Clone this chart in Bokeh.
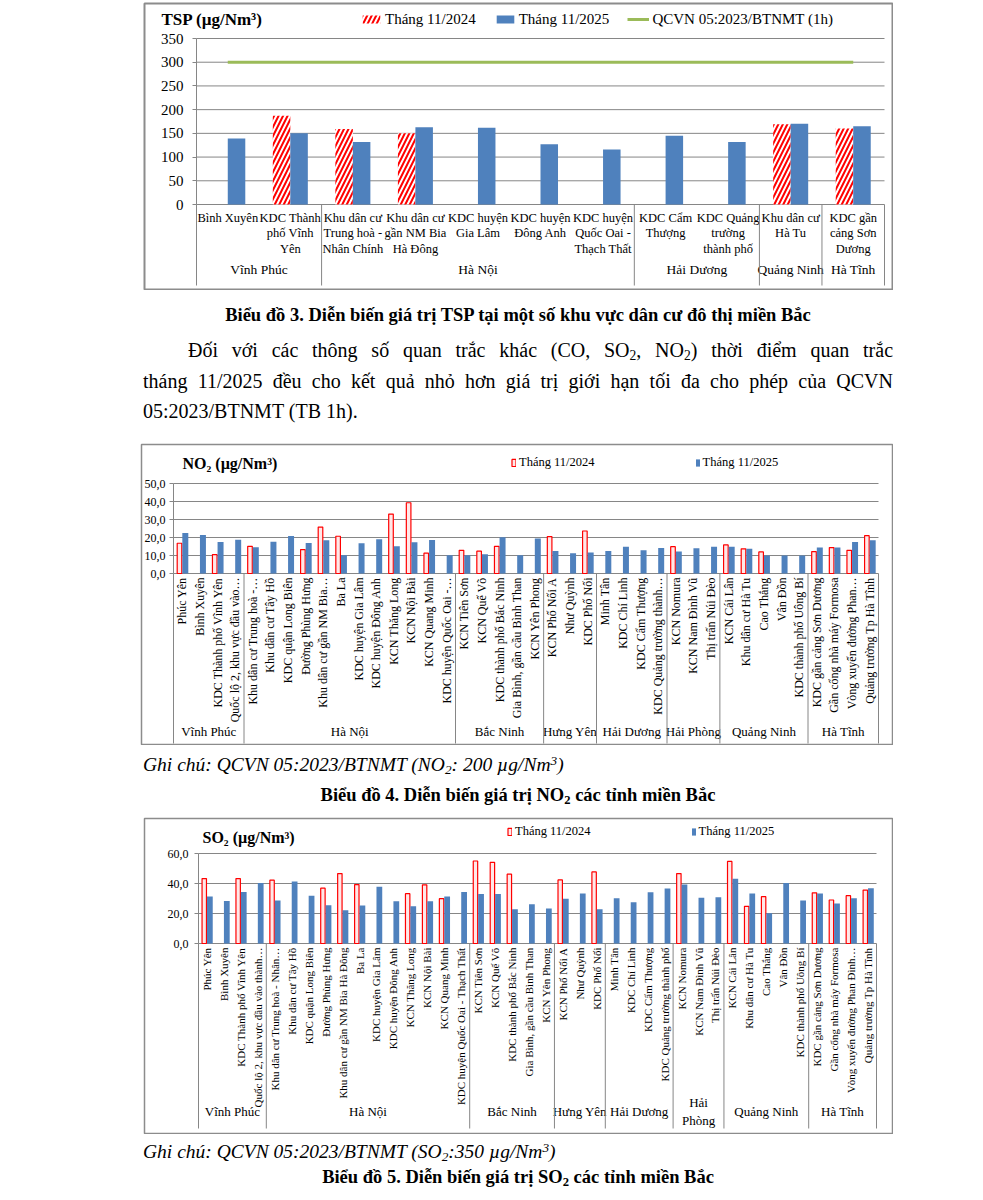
import math
from bokeh.plotting import figure
from bokeh.models import Range1d, ColumnDataSource, FixedTicker, Label, Legend, LegendItem, Div
from bokeh.layouts import column
from bokeh.core.properties import value
from bokeh.embed import file_html
from bokeh.resources import INLINE

NaN = float("nan")
SERIF = "Liberation Serif"
BLUE = "#4F81BD"
RED = "#FF0000"
GREEN = "#9BBB59"
GRID = "#868686"
BORDER = "#8C8C8C"

SERIES_2024 = "Tháng 11/2024"
SERIES_2025 = "Tháng 11/2025"

# ---------------- TSP ----------------
tsp_groups = ["Vĩnh Phúc", "Hà Nội", "Hải Dương", "Quảng Ninh", "Hà Tĩnh"]
tsp_group_sizes = [2, 5, 2, 1, 1]
tsp_group_labels = ["Vĩnh Phúc", "Hà Nội", "Hải Dương", "Quảng Ninh", "Hà Tĩnh"]
tsp_labels = ["Bình Xuyên", "KDC Thành\nphố Vĩnh\nYên", "Khu dân cư\nTrung hoà -\nNhân Chính",
              "Khu dân cư\ngần NM Bia\nHà Đông", "KDC huyện\nGia Lâm", "KDC huyện\nĐông Anh",
              "KDC huyện\nQuốc Oai -\nThạch Thất", "KDC Cẩm\nThượng", "KDC Quảng\ntrường\nthành phố",
              "Khu dân cư\nHà Tu", "KDC gần\ncảng Sơn\nDương"]
tsp_2024 = [NaN, 187, 159, 150, NaN, NaN, NaN, NaN, NaN, 169, 160]
tsp_2025 = [139, 150, 132, 163, 162, 127, 116, 145, 132, 170, 165]
tsp_ticks = [0, 50, 100, 150, 200, 250, 300, 350]
tsp_tick_text = ["0", "50", "100", "150", "200", "250", "300", "350"]
tsp_limit = 300
tsp_limit_name = "QCVN 05:2023/BTNMT (1h)"

# ---------------- NO2 / SO2 stations ----------------
air_groups = ["Vĩnh Phúc", "Hà Nội", "Bắc Ninh", "Hưng Yên", "Hải Dương", "Hải Phòng",
              "Quảng Ninh", "Hà Tĩnh"]
air_group_sizes = [4, 12, 5, 3, 4, 3, 5, 4]
no2_group_labels = ["Vĩnh Phúc", "Hà Nội", "Bắc Ninh", "Hưng Yên", "Hải Dương", "Hải Phòng",
                    "Quảng Ninh", "Hà Tĩnh"]
so2_group_labels = ["Vĩnh Phúc", "Hà Nội", "Bắc Ninh", "Hưng Yên", "Hải Dương", "Hải\nPhòng",
                    "Quảng Ninh", "Hà Tĩnh"]

no2_labels = ["Phúc Yên", "Bình Xuyên", "KDC Thành phố Vĩnh Yên", "Quốc lộ 2, khu vực đầu vào…",
              "Khu dân cư Trung hoà -…", "Khu dân cư Tây Hồ", "KDC quận Long Biên", "Đường Phùng Hưng",
              "Khu dân cư gần NM Bia…", "Ba La", "KDC huyện Gia Lâm", "KDC huyện Đông Anh",
              "KCN Thăng Long", "KCN Nội Bài", "KCN Quang Minh", "KDC huyện Quốc Oai -…",
              "KCN Tiên Sơn", "KCN Quế Võ", "KDC thành phố Bắc Ninh", "Gia Bình, gần cầu Bình Than",
              "KCN Yên Phong", "KCN Phố Nối A", "Như Quỳnh", "KDC Phố Nối",
              "Minh Tân", "KDC Chí Linh", "KDC Cẩm Thượng", "KDC Quảng trường thành…",
              "KCN Nomura", "KCN Nam Đình Vũ", "Thị trấn Núi Đèo",
              "KCN Cái Lân", "Khu dân cư Hà Tu", "Cao Thắng", "Vân Đồn", "KDC thành phố Uông Bí",
              "KDC gần cảng Sơn Dương", "Gần cổng nhà máy Formosa", "Vòng xuyến đường Phan…",
              "Quảng trường Tp Hà Tĩnh"]
no2_2024 = [16.8, NaN, 10.5, NaN, 15.1, NaN, NaN, 13.3, 25.8, 20.7, NaN, NaN, 33.0, 39.3, 11.3, NaN,
            12.9, 12.4, 15.1, NaN, NaN, 20.5, NaN, 23.6, NaN, NaN, NaN, NaN, 14.9, NaN, NaN,
            15.9, 13.7, 12.0, NaN, NaN, 12.2, 14.4, 12.9, 21.0]
no2_2025 = [22.5, 21.4, 17.5, 18.8, 14.6, 17.7, 20.8, 17.0, 18.5, 10.1, 16.8, 19.0, 15.1, 17.3, 18.6, 10.1,
            10.1, 10.7, 20.1, 10.1, 19.4, 12.5, 11.3, 11.6, 12.5, 14.8, 12.9, 14.2, 12.2, 14.0, 14.9,
            14.8, 13.8, 10.0, 10.0, 10.0, 14.4, 14.4, 17.5, 18.5]
no2_ticks = [0, 10, 20, 30, 40, 50]
no2_tick_text = ["0,0", "10,0", "20,0", "30,0", "40,0", "50,0"]

so2_labels = ["Phúc Yên", "Bình Xuyên", "KDC Thành phố Vĩnh Yên", "Quốc lộ 2, khu vực đầu vào thành…",
              "Khu dân cư Trung hoà - Nhân…", "Khu dân cư Tây Hồ", "KDC quận Long Biên", "Đường Phùng Hưng",
              "Khu dân cư gần NM Bia Hà Đông", "Ba La", "KDC huyện Gia Lâm", "KDC huyện Đông Anh",
              "KCN Thăng Long", "KCN Nội Bài", "KCN Quang Minh", "KDC huyện Quốc Oai - Thạch Thất",
              "KCN Tiên Sơn", "KCN Quế Võ", "KDC thành phố Bắc Ninh", "Gia Bình, gần cầu Bình Than",
              "KCN Yên Phong", "KCN Phố Nối A", "Như Quỳnh", "KDC Phố Nối",
              "Minh Tân", "KDC Chí Linh", "KDC Cẩm Thượng", "KDC Quảng trường thành phố",
              "KCN Nomura", "KCN Nam Đình Vũ", "Thị trấn Núi Đèo",
              "KCN Cái Lân", "Khu dân cư Hà Tu", "Cao Thắng", "Vân Đồn", "KDC thành phố Uông Bí",
              "KDC gần cảng Sơn Dương", "Gần cổng nhà máy Formosa", "Vòng xuyến đường Phan Đình…",
              "Quảng trường Tp Hà Tĩnh"]
so2_2024 = [43.3, NaN, 43.3, NaN, 42.2, NaN, NaN, 36.9, 46.6, 39.3, NaN, NaN, 33.2, 39.1, 29.9, NaN,
            55.0, 54.1, 46.2, NaN, NaN, 42.4, NaN, 47.7, NaN, NaN, NaN, NaN, 46.6, NaN, NaN,
            54.7, 24.8, 31.2, NaN, NaN, 33.8, 29.0, 31.9, 35.6]
so2_2025 = [31.4, 28.4, 34.3, 40.4, 28.6, 41.3, 31.9, 25.5, 22.2, 25.3, 37.8, 28.1, 24.8, 28.1, 31.4, 34.3,
            33.0, 33.0, 22.9, 26.2, 23.3, 29.9, 33.4, 22.9, 30.1, 27.5, 34.1, 36.7, 39.3, 30.5, 30.8,
            43.1, 33.4, 20.2, 40.4, 28.6, 33.4, 26.6, 30.1, 36.9]
so2_ticks = [0, 20, 40, 60]
so2_tick_text = ["0,0", "20,0", "40,0", "60,0"]


def expand(groups, sizes):
    out = []
    for g, n in zip(groups, sizes):
        out += [g] * n
    return out


def make_chart(geo, style, title, labels, groups, sizes, group_labels, v24, v25, ticks, tick_text,
               limit=None, limit_name=None):
    # geometry in canvas pixels: W,H box; L,R plot left/right; T,Z y of top tick / zero; B separator bottom
    W, H, L, R, T, Z, B = (geo[k] for k in ("W", "H", "L", "R", "T", "Z", "B"))
    n = len(labels)
    ymax = ticks[-1]
    cw = (R - L) / n            # px per category
    k = (Z - T) / ymax          # px per unit
    stations = [s.replace("\n", " ") for s in labels]
    provinces = expand(groups, sizes)
    xc = [i + 0.5 for i in range(n)]

    p = figure(x_range=Range1d(-(L - 1) / cw, n + (W - 1 - R) / cw),
               y_range=Range1d(-(H - 1 - Z) / k, ymax + (T - 1) / k),
               x_axis_location=None, y_axis_location="left",
               frame_width=W - 2, frame_height=H - 2,
               min_border_left=1, min_border_right=1, min_border_top=1, min_border_bottom=1,
               output_backend="svg", toolbar_location=None,
               outline_line_color=BORDER, outline_line_width=geo["bw"],
               background_fill_color="white", border_fill_color="white",
               margin=geo["margin"])
    p.xgrid.visible = False
    p.ygrid.visible = False
    ax = p.yaxis[0]
    ax.fixed_location = 0
    ax.bounds = (0, ymax)
    ax.ticker = FixedTicker(ticks=ticks)
    ax.major_label_overrides = dict(zip(ticks, tick_text))
    ax.axis_line_color = GRID
    ax.major_tick_line_color = GRID
    ax.major_tick_in = 0
    ax.major_tick_out = 4
    ax.minor_tick_line_color = None
    ax.major_label_text_font = SERIF
    ax.major_label_text_font_size = style["tick_font"]
    ax.major_label_text_color = "black"
    ax.major_label_standoff = style["tick_standoff"]

    # horizontal gridlines at the ticks, spanning the categories
    gsrc = ColumnDataSource(dict(y=ticks, x0=[0] * len(ticks), x1=[n] * len(ticks)))
    p.segment(x0="x0", y0="y", x1="x1", y1="y", source=gsrc, line_color=GRID, line_width=1)

    src = ColumnDataSource(dict(x=xc, station=stations, province=provinces, v24=v24, v25=v25, lab=labels,
                                x24=[v + style["off24"] for v in xc], x25=[v + style["off25"] for v in xc]))
    r24 = p.vbar(x="x24", top="v24", width=style["w24"], source=src, **style["bar24"])
    r25 = p.vbar(x="x25", top="v25", width=style["w25"], source=src, fill_color=BLUE, line_color=None)
    items = [LegendItem(label=SERIES_2024, renderers=[r24]),
             LegendItem(label=SERIES_2025, renderers=[r25])]
    if limit is not None:
        rl = p.line(x=[xc[0], xc[-1]], y=[limit, limit], line_color=GREEN, line_width=3)
        items.append(LegendItem(label=limit_name, renderers=[rl]))

    # category labels
    if style["rotate"]:
        p.text(x="x", y=0, text="lab", source=src, angle=math.pi / 2, text_align="right",
               text_baseline="middle", y_offset=style["lab_gap"], text_font=value(SERIF),
               text_font_size=style["lab_font"], text_color="black")
    else:
        p.text(x="x", y=0, text="lab", source=src, text_align="center", text_baseline="top",
               y_offset=style["lab_gap"], text_font=value(SERIF), text_font_size=style["lab_font"],
               text_line_height=1.12, text_color="black")

    # group labels and separators
    bnd = [0]
    for m in sizes:
        bnd.append(bnd[-1] + m)
    centers = [(bnd[i] + bnd[i + 1]) / 2 for i in range(len(sizes))]
    tsrc = ColumnDataSource(dict(x=centers, t=group_labels))
    p.text(x="x", y=0, text="t", source=tsrc, text_align="center", text_baseline="middle",
           y_offset=style["grp_gap"], text_font=value(SERIF), text_font_size=style["grp_font"],
           text_line_height=1.15, text_color="black")
    ybot = -(B - Z) / k
    ssrc = ColumnDataSource(dict(x=bnd, y1=[ybot] * len(bnd)))
    p.segment(x0="x", y0=0, x1="x", y1="y1", source=ssrc, line_color=GRID, line_width=1)

    # title
    p.add_layout(Label(x=(style["title_x"] - L) / cw, y=ymax + (T - style["title_y"]) / k, text=title,
                       text_font=SERIF, text_font_style="bold", text_font_size=style["title_font"],
                       text_baseline="middle", text_align="left", text_color="black"))
    # legend (location measured from the frame's bottom-left corner)
    lx, ly = style["legend_xy"]
    lg = Legend(items=items, orientation="horizontal",
                location=(lx - 1, (H - 1) - ly - style["label_h"] / 2),
                glyph_width=style["glyph_w"], glyph_height=style["glyph_h"],
                label_standoff=style["standoff"], spacing=style["spacing"], padding=0, margin=0,
                label_height=style["label_h"],
                border_line_color=None, background_fill_alpha=0,
                label_text_font=SERIF, label_text_font_size=style["legend_font"],
                label_text_color="black", label_text_baseline="middle")
    p.add_layout(lg)
    return p


tsp_geo = dict(W=750, H=288, L=53, R=741, T=36, Z=202, B=283, bw=2, margin=(2, 0, 0, 143))
tsp_style = dict(tick_font="15px", tick_standoff=9, off24=-0.14, w24=0.28, off25=0.14, w25=0.28,
                 bar24=dict(fill_color="white", line_color=None, hatch_pattern="/", hatch_color=RED,
                            hatch_weight=2, hatch_scale=9),
                 rotate=False, lab_gap=6, lab_font="12.5px", grp_gap=65, grp_font="13.5px",
                 title_x=18, title_y=17, title_font="17px",
                 legend_xy=(217, 17), glyph_w=22, glyph_h=10, standoff=3, spacing=18, label_h=18,
                 legend_font="15px")

no2_geo = dict(W=753, H=302, L=33, R=738, T=40, Z=130, B=300, bw=1.5, margin=(16, 0, 0, 140))
no2_style = dict(tick_font="12px", tick_standoff=4, off24=-0.16, w24=0.26, off25=0.17, w25=0.34,
                 bar24=dict(fill_color="#FFE8E8", line_color=RED, line_width=1.2),
                 rotate=True, lab_gap=4, lab_font="12px", grp_gap=158, grp_font="13px",
                 title_x=42, title_y=20, title_font="16px",
                 legend_xy=(371, 19), glyph_w=5, glyph_h=9, standoff=3, spacing=100, label_h=16,
                 legend_font="12.5px")

so2_geo = dict(W=750, H=317, L=55, R=733, T=36, Z=126, B=311, bw=1.5, margin=(7, 0, 0, 143))
so2_style = dict(no2_style, lab_font="11px", grp_gap=168, title_x=59, title_y=20,
                 legend_xy=(364, 14), tick_standoff=6)

p1 = make_chart(tsp_geo, tsp_style, "TSP (µg/Nm³)", tsp_labels, tsp_groups, tsp_group_sizes,
                tsp_group_labels, tsp_2024, tsp_2025, tsp_ticks, tsp_tick_text, tsp_limit, tsp_limit_name)
p2 = make_chart(no2_geo, no2_style, "NO₂ (µg/Nm³)", no2_labels, air_groups, air_group_sizes,
                no2_group_labels, no2_2024, no2_2025, no2_ticks, no2_tick_text)
p3 = make_chart(so2_geo, so2_style, "SO₂ (µg/Nm³)", so2_labels, air_groups, air_group_sizes,
                so2_group_labels, so2_2024, so2_2025, so2_ticks, so2_tick_text)

FONT = "font-family:'Liberation Serif','Times New Roman',serif;color:black;"
SUB = '<sub style="font-size:0.68em;line-height:0;vertical-align:-0.25em">'
SUP = '<sup style="font-size:0.68em;line-height:0;vertical-align:0.45em">'
LEFT = 143


def caption(html, h, top):
    return Div(text=f'<div style="{FONT}font-weight:bold;font-size:18.5px;text-align:center;'
                    f'line-height:{h}px;width:750px;white-space:nowrap">{html}</div>',
               width=750, height=h, margin=(top, 0, 0, LEFT))


def note(html, h, top):
    return Div(text=f'<div style="{FONT}font-style:italic;font-size:19.5px;line-height:{h}px;'
                    f'width:750px;white-space:nowrap">{html}</div>',
               width=750, height=h, margin=(top, 0, 0, LEFT))


cap1 = caption("Biểu đồ 3. Diễn biến giá trị TSP tại một số khu vực dân cư đô thị miền Bắc", 40, 5)
para_lines = [
    f"Đối với các thông số quan trắc khác (CO, SO{SUB}2</sub>, NO{SUB}2</sub>) thời điểm quan trắc",
    "tháng 11/2025 đều cho kết quả nhỏ hơn giá trị giới hạn tối đa cho phép của QCVN",
    "05:2023/BTNMT (TB 1h).",
]
para_html = (
    f'<div style="{FONT}font-size:20px;line-height:30.5px;width:750px">'
    f'<div style="text-indent:45px;text-align:justify;text-align-last:justify;white-space:nowrap">{para_lines[0]}</div>'
    f'<div style="text-align:justify;text-align-last:justify;white-space:nowrap">{para_lines[1]}</div>'
    f'<div style="text-align:left">{para_lines[2]}</div></div>'
)
para = Div(text=para_html, width=750, height=92, margin=(0, 0, 0, LEFT))
note2 = note(f"Ghi chú: QCVN 05:2023/BTNMT (NO{SUB}2</sub>: 200 µg/Nm{SUP}3</sup>)", 30, 5)
cap2 = caption(f"Biểu đồ 4. Diễn biến giá trị NO{SUB}2</sub> các tỉnh miền Bắc", 30, 0)
note3 = note(f"Ghi chú: QCVN 05:2023/BTNMT (SO{SUB}2</sub>:350 µg/Nm{SUP}3</sup>)", 30, 3)
cap3 = caption(f"Biểu đồ 5. Diễn biến giá trị SO{SUB}2</sub> các tỉnh miền Bắc", 20, 0)

page = column(p1, cap1, para, p2, note2, cap2, p3, note3, cap3, spacing=0)

with open("out.html", "w") as f:
    f.write(file_html(page, INLINE))
